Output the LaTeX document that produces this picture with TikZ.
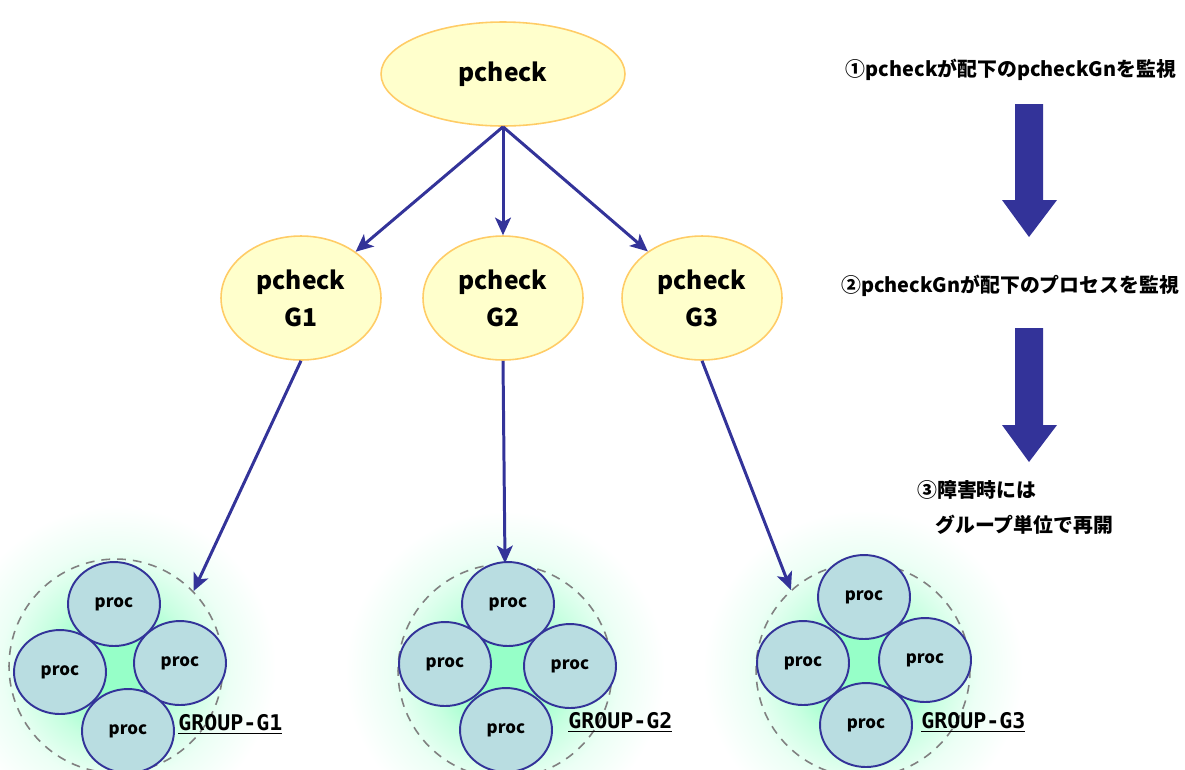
\documentclass[tikz,border=0pt]{standalone}
\usepackage{fontspec}
\setmainfont{Noto Sans CJK JP}
\newfontfamily\grpfont{DejaVu Sans Mono}
\usetikzlibrary{arrows.meta,shapes.geometric}
\definecolor{ovalfill}{RGB}{255,255,204}
\definecolor{ovalline}{RGB}{255,204,102}
\definecolor{procfill}{RGB}{185,221,225}
\definecolor{navy}{RGB}{51,51,153}
\definecolor{mint}{RGB}{150,255,200}
\definecolor{midmint}{RGB}{200,255,225}
\definecolor{palemint}{RGB}{236,255,245}
\pgfdeclareradialshading{grpglow}{\pgfpoint{0bp}{0bp}}{color(0bp)=(mint); color(6bp)=(mint); color(12bp)=(midmint); color(18bp)=(palemint); color(25bp)=(white); color(50bp)=(white)}

\tikzset{
  oval/.style={ellipse, draw=ovalline, line width=0.9pt, fill=ovalfill, inner sep=0pt, align=center, font=\bfseries\fontsize{14}{21}\selectfont},
  proc/.style={ellipse, draw=navy, line width=1.1pt, fill=procfill, minimum width=1.84cm, minimum height=1.68cm, inner sep=0pt, font=\bfseries\fontsize{9.6}{9.6}\selectfont},
  grp/.style={circle, draw=gray, dashed, dash pattern=on 5pt off 4pt, line width=0.9pt, minimum size=4.28cm, inner sep=0pt},
  glow/.style={circle, shading=grpglow, minimum size=6.4cm, inner sep=0pt},
  link/.style={draw=navy, line width=1.7pt, -{Stealth[length=10pt, width=9pt, inset=2.5pt]}},
  grplabel/.style={anchor=west, inner sep=0pt, font=\grpfont\bfseries\fontsize{12.3}{12.3}\selectfont},
  note/.style={inner sep=0pt, font=\bfseries\fontsize{11.3}{11.3}\selectfont}
}

\begin{document}
\begin{tikzpicture}[x=0.02cm, y=-0.02cm]
  \useasboundingbox (0,0) rectangle (1185,769);

  % glow behind each group
  \node[glow] (glow1) at (116,666) {};
  \node[glow] (glow2) at (505,671) {};
  \node[glow] (glow3) at (863,670) {};

  % monitors
  \node[oval, minimum width=4.88cm, minimum height=2.08cm] (top) at (503,74) {pcheck};
  \node[oval, minimum width=3.2cm, minimum height=2.48cm] (g1) at (301,298) {pcheck\\G1};
  \node[oval, minimum width=3.2cm, minimum height=2.48cm] (g2) at (503,298) {pcheck\\G2};
  \node[oval, minimum width=3.2cm, minimum height=2.48cm] (g3) at (702,298) {pcheck\\G3};

  % process groups
  \node[grp] (grp1) at (116,666) {};
  \node[proc] (p11) at (114,604) {proc};
  \node[proc] (p12) at (60,672) {proc};
  \node[proc] (p13) at (180,663) {proc};
  \node[proc] (p14) at (128,731) {proc};
  \node[grplabel] (lbl1) at (178,724) {\underline{GROUP-G1}};

  \node[grp] (grp2) at (505,671) {};
  \node[proc] (p21) at (508,604) {proc};
  \node[proc] (p22) at (445,664) {proc};
  \node[proc] (p23) at (570,666) {proc};
  \node[proc] (p24) at (506,730) {proc};
  \node[grplabel] (lbl2) at (568,722) {\underline{GROUP-G2}};

  \node[grp] (grp3) at (863,670) {};
  \node[proc] (p31) at (864,597) {proc};
  \node[proc] (p32) at (803,663) {proc};
  \node[proc] (p33) at (925,660) {proc};
  \node[proc] (p34) at (866,725) {proc};
  \node[grplabel] (lbl3) at (921,722) {\underline{GROUP-G3}};

  % connectors
  \draw[link] (top.south) -- (g1);
  \draw[link] (top.south) -- (g2.north);
  \draw[link] (top.south) -- (g3);
  \draw[link] (g1.south) -- (grp1.44);
  \draw[link] (g2.south) -- (grp2.north);
  \draw[link] (g3.south) -- (grp3.132);

  % steps
  \node[note] (step1) at (1011,70) {①pcheckが配下のpcheckGnを監視};
  \fill[navy] (1015,104) -- (1043,104) -- (1043,200) -- (1057,200) -- (1029,237) -- (1002,200) -- (1015,200) -- cycle;
  \node[note] (step2) at (1010,286) {②pcheckGnが配下のプロセスを監視};
  \fill[navy] (1015,328) -- (1043,328) -- (1043,425) -- (1057,425) -- (1029,462) -- (1002,425) -- (1015,425) -- cycle;
  \node[note, anchor=west] (step3) at (917,490) {③障害時には};
  \node[note, anchor=west] (step3b) at (935,525) {グループ単位で再開};
\end{tikzpicture}
\end{document}
